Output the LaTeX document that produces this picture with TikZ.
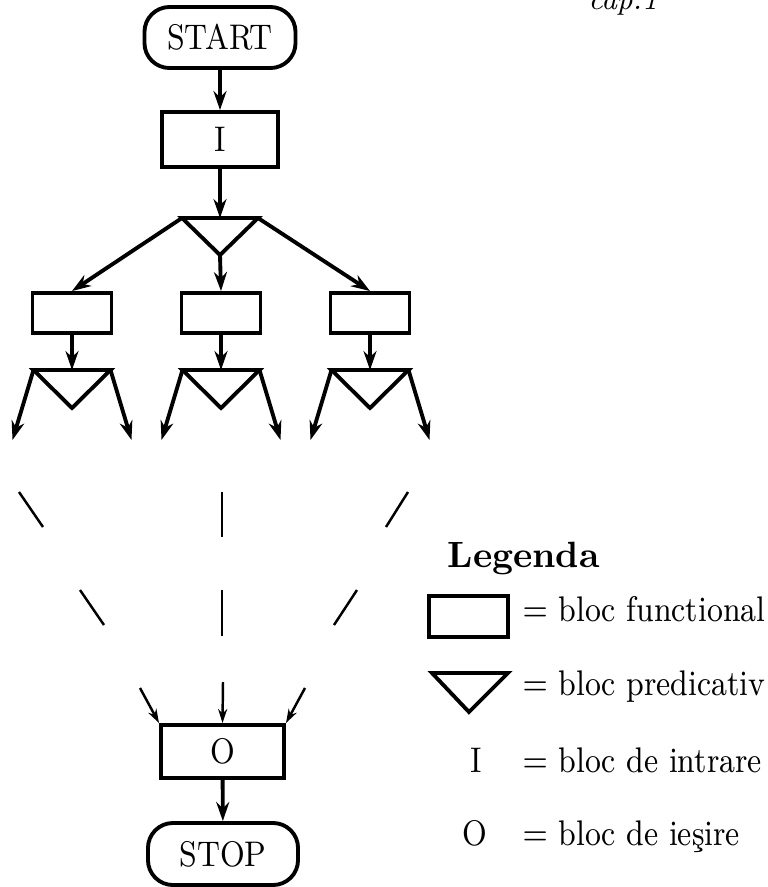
\documentclass[tikz,border=0pt]{standalone}
\usepackage{fontspec}
\usetikzlibrary{arrows.meta,positioning}

\newcommand{\tall}[1]{\scalebox{1}[1.15]{#1}}

\tikzset{
  blk/.style={draw, line width=1.1pt, inner sep=0pt, minimum width=0.79cm, minimum height=0.40cm},
  term/.style={blk, rounded corners=0.25cm},
  flow/.style={->, line width=1.1pt},
  thinflow/.style={-{Stealth[length=1.4mm,width=0.9mm]}, line width=0.7pt},
  gap/.style={line width=0.7pt},
  txt/.style={inner sep=0pt, anchor=base west},
}

\begin{document}
\begin{tikzpicture}[x=0.01cm, y=-0.01cm, >={Stealth[length=1.9mm,width=1.3mm]},
    font=\fontsize{8.8}{10}\selectfont, line join=miter]
  \useasboundingbox (0,0) rectangle (768,887);
  \node[txt, font=\fontsize{8.5}{10}\selectfont\itshape] (cap) at (588,9) {cap.1};

  % start and input
  \node[term, minimum width=1.51cm, minimum height=0.61cm] (start) at (220,37.5) {\tall{START}};
  \node[blk, minimum width=1.16cm, minimum height=0.55cm] (in) at (220,139.5) {\tall{I}};
  \draw[flow] (start) -- (in);

  % first predicate block
  \coordinate (p0l) at (182,218);
  \coordinate (p0r) at (258,218);
  \coordinate (p0a) at (220,255);
  \coordinate (p0t) at (220,218);
  \draw[flow] (in) -- (p0t);
  \draw[line width=1.1pt] (p0l) -- (p0r) -- (p0a) -- cycle;

  % three branches
  \foreach \i/\x in {1/72,2/221,3/370}{
    \node[blk] (b\i) at (\x,313) {};
    \coordinate (t\i) at (\x,370);
    \coordinate (t\i l) at (\x-38.5,370);
    \coordinate (t\i r) at (\x+38.5,370);
    \coordinate (t\i a) at (\x,408);
    \coordinate (e\i l) at (\x-59.5,440);
    \coordinate (e\i r) at (\x+59.5,440);
    \draw[flow] (b\i) -- (t\i);
    \draw[line width=1.1pt] (t\i l) -- (t\i r) -- (t\i a) -- cycle;
    \draw[flow] (t\i l) -- (e\i l);
    \draw[flow] (t\i r) -- (e\i r);
  }
  \draw[flow] (p0l) -- (b1.north);
  \draw[flow] (p0a) -- (b2.north);
  \draw[flow] (p0r) -- (b3.north);

  % omitted part
  \draw[gap] (19,492) -- (43,527);
  \draw[gap] (222,492) -- (222,537);
  \draw[gap] (408,492) -- (386,527);
  \draw[gap] (80,590) -- (104,625);
  \draw[gap] (222,590) -- (222,636);
  \draw[gap] (357,590) -- (334,625);

  % output and stop
  \node[blk, minimum width=1.23cm, minimum height=0.53cm] (out) at (222.5,751.5) {\tall{O}};
  \node[term, minimum width=1.50cm, minimum height=0.62cm] (stop) at (223,854) {\tall{STOP}};
  \coordinate (i1) at (140,688);
  \coordinate (i2) at (223,682);
  \coordinate (i3) at (305,688);
  \draw[thinflow] (i1) -- (out.north west);
  \draw[thinflow] (i2) -- (out.north);
  \draw[thinflow] (i3) -- (out.north east);
  \draw[flow] (out) -- (stop);

  % legend
  \node[txt, font=\fontsize{10.4}{12}\selectfont\bfseries] (leg) at (447,567) {Legenda};
  \node[blk, minimum height=0.41cm] (lb) at (468.5,616.5) {};
  \node[txt] (lbt) at (522,621) {\tall{$=$ bloc functional}};
  \coordinate (ltl) at (432,673);
  \coordinate (ltr) at (508,673);
  \coordinate (lta) at (469,712);
  \draw[line width=1.1pt] (ltl) -- (ltr) -- (lta) -- cycle;
  \node[txt] (ltt) at (522,695) {\tall{$=$ bloc predicativ}};
  \node[anchor=base, inner sep=0pt] (li) at (476,772) {\tall{I}};
  \node[txt] (lit) at (522,772) {\tall{$=$ bloc de intrare}};
  \node[anchor=base, inner sep=0pt] (lo) at (475,845) {\tall{O}};
  \node[txt] (lot) at (522,845) {\tall{$=$ bloc de ieşire}};
\end{tikzpicture}
\end{document}
